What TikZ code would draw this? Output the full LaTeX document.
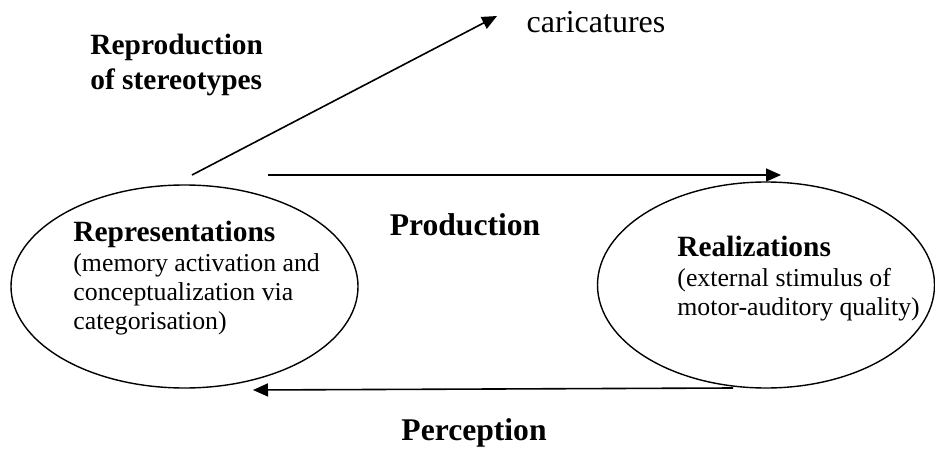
\documentclass[tikz,border=0pt]{standalone}
\usepackage{fontspec}
\setmainfont{Liberation Serif}
\usetikzlibrary{arrows.meta,shapes.geometric}
\begin{document}
\begin{tikzpicture}[x=0.5pt,y=-0.5pt,
  blob/.style={draw, ellipse, line width=0.7pt, inner sep=0pt},
  flow/.style={line width=0.8pt, -{Triangle[length=7.5pt,width=6.5pt]}},
  head/.style={font=\fontsize{14.7}{17.5}\selectfont\bfseries},
  bighead/.style={font=\fontsize{15.8}{17}\selectfont\bfseries, inner sep=0pt},
  body/.style={font=\fontsize{12.9}{14.4}\selectfont, align=left, inner sep=0pt, anchor=north west}]
\useasboundingbox (0,0) rectangle (935,454);
% the two ellipses
\node[blob, minimum width=173.5pt, minimum height=101.5pt] (rep) at (184.5,286.5) {};
\node[blob, minimum width=168.5pt, minimum height=103pt] (real) at (766,285) {};
% texts inside the ellipses
\node[body] (reptxt) at (73,221) {{\fontsize{14.7}{16.5}\selectfont\bfseries Representations}\\[0.5pt]
(memory activation and\\conceptualization via\\categorisation)};
\node[body] (realtxt) at (677,236) {{\fontsize{14.7}{16.5}\selectfont\bfseries Realizations}\\[0.5pt]
(external stimulus of\\motor-auditory quality)};
% labels
\node[head, align=left, anchor=north west, inner sep=0pt] (repro) at (90,34) {Reproduction\\of stereotypes};
\node[font=\fontsize{16}{18}\selectfont, inner sep=0pt] (cari) at (596,22) {caricatures};
\node[bighead] (prod) at (465,225) {Production};
\node[bighead] (perc) at (474,433) {Perception};
% arrow end points
\coordinate (s1) at (192,175);
\coordinate (t1) at (497,16);
\coordinate (s2) at (268,175);
\coordinate (t2) at (781,175);
\coordinate (s3) at (733,388);
\coordinate (t3) at (253,390);
\draw[flow] (s1) -- (t1);
\draw[flow] (s2) -- (t2);
\draw[flow] (s3) -- (t3);
\end{tikzpicture}
\end{document}
